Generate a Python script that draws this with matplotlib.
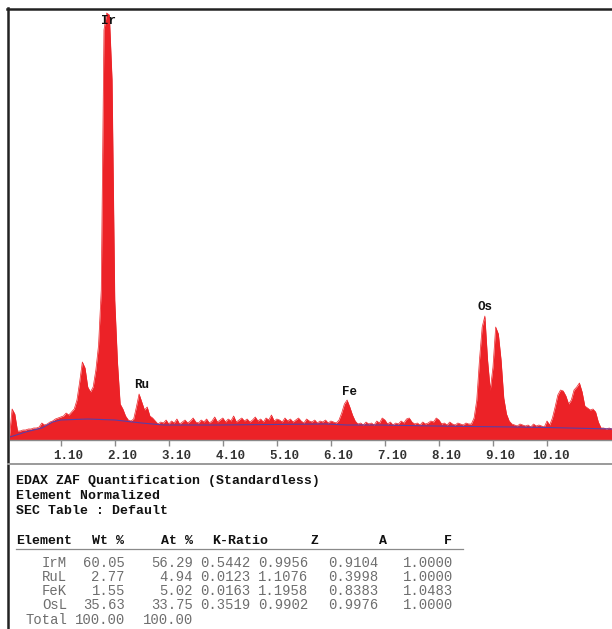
import numpy as np
import matplotlib
matplotlib.use('Agg')
import matplotlib.pyplot as plt
from matplotlib.lines import Line2D
from matplotlib import transforms

# spectrum counts, one value per 0.05 keV channel starting at 0.15 keV
counts = [
    3, 31, 26, 9, 9, 10, 10, 11, 11, 12, 12, 13, 17, 15, 16, 18, 19, 21, 22, 23,
    24, 27, 25, 28, 31, 40, 58, 78, 72, 53, 48, 53, 70, 95, 150, 410, 427, 425, 360, 140,
    78, 36, 31, 24, 20, 19, 21, 33, 46, 38, 30, 33, 24, 22, 19, 16, 18, 17, 20, 16,
    19, 17, 21, 16, 18, 20, 17, 19, 22, 18, 17, 20, 18, 21, 17, 19, 23, 18, 20, 22,
    18, 21, 19, 24, 18, 20, 22, 19, 21, 18, 20, 23, 19, 21, 18, 22, 20, 25, 19, 21,
    20, 18, 22, 19, 21, 18, 20, 22, 19, 17, 21, 19, 18, 20, 17, 19, 18, 20, 17, 19,
    18, 17, 20, 27, 36, 40, 33, 25, 19, 16, 17, 15, 18, 16, 17, 15, 19, 17, 22, 20,
    16, 18, 15, 17, 16, 19, 17, 21, 22, 18, 16, 17, 15, 18, 16, 17, 19, 18, 22, 20,
    16, 17, 15, 18, 16, 15, 17, 16, 15, 17, 16, 16, 22, 40, 80, 113, 124, 80, 50, 73,
    113, 106, 80, 42, 26, 19, 16, 15, 14, 16, 15, 14, 15, 13, 16, 14, 15, 14, 13, 19,
    15, 22, 33, 45, 50, 49, 44, 36, 40, 50, 53, 57, 48, 34, 32, 30, 31, 28, 18, 12,
    12, 11, 12, 11,
]
chan_start = 0.15
chan_width = 0.05
energy = np.round(chan_start + chan_width * np.arange(len(counts)), 2)

# background fit (blue line)
bg_kev = [0.16, 0.45, 0.75, 0.95, 1.1, 1.6, 2.1, 2.6, 3.0, 4.0, 5.0, 6.0, 6.4, 7.0, 8.0, 8.7, 9.5, 10.1, 11.3]
bg_counts = [3, 8, 12, 18, 20, 21, 20, 17, 15, 15, 15.5, 16, 15, 15, 14, 13.5, 13, 12.5, 11]

tick_kev = [1.1, 2.1, 3.1, 4.1, 5.1, 6.1, 7.1, 8.1, 9.1, 10.1]
tick_labels = ['1.10', '2.10', '3.10', '4.10', '5.10', '6.10', '7.10', '8.10', '9.10', '10.10']

peak_names = ['Ir', 'Ru', 'Fe', 'Os']
peak_kev = [1.99, 2.60, 6.45, 8.95]
peak_label_y = [419, 55, 48, 133]

# quantification table
title_lines = ['EDAX ZAF Quantification (Standardless)', 'Element Normalized', 'SEC Table : Default']
col_names = ['Element', 'Wt %', 'At %', 'K-Ratio', 'Z', 'A', 'F']
elements = ['IrM', 'RuL', 'FeK', 'OsL']
wt_pct = ['60.05', '2.77', '1.55', '35.63']
at_pct = ['56.29', '4.94', '5.02', '33.75']
k_ratio = ['0.5442', '0.0123', '0.0163', '0.3519']
z_corr = ['0.9956', '1.1076', '1.1958', '0.9902']
a_corr = ['0.9104', '0.3998', '0.8383', '0.9976']
f_corr = ['1.0000', '1.0000', '1.0483', '1.0000']
total_wt = '100.00'
total_at = '100.00'

W, H = 612, 629
red = '#ec2227'
blue = '#5a3ea6'
mono = 'Liberation Mono'


def fx(px):
    return px / W


def fy(py):
    return 1 - py / H


fig = plt.figure(figsize=(W / 100, H / 100), dpi=100)
fig.patch.set_facecolor('white')

ax = fig.add_axes([fx(10), fy(440), fx(602), 430 / H])
ax.fill_between(energy, counts, 0, color=red, lw=0)
ax.plot(energy, counts, color=red, lw=0.5)
ax.plot(bg_kev, bg_counts, color=blue, lw=0.8)
ax.set_xlim(0.161, 11.303)
ax.set_ylim(0, 430)

for s in ['top', 'right', 'left']:
    ax.spines[s].set_visible(False)
ax.spines['bottom'].set_color('#8a8a8a')
ax.spines['bottom'].set_linewidth(1)
ax.set_yticks([])
ax.set_xticks(tick_kev)
ax.set_xticklabels(tick_labels, fontfamily=mono, fontweight='bold', fontsize=9, color='#333333')
ax.tick_params(axis='x', direction='out', length=4, width=1, color='#8a8a8a', pad=3)
# labels sit to the right of their tick
off = transforms.ScaledTranslation(0.225, 0, fig.dpi_scale_trans)
for lab in ax.get_xticklabels():
    lab.set_horizontalalignment('right')
    lab.set_transform(lab.get_transform() + off)

for name, kev, ly in zip(peak_names, peak_kev, peak_label_y):
    ax.text(kev, ly, name, ha='center', va='center', fontfamily=mono,
            fontweight='bold', fontsize=9, color='#111111')

# frame and separators
fig.add_artist(Line2D([fx(7.5), fx(7.5)], [0, fy(8)], transform=fig.transFigure, color='#222222', lw=1.8))
fig.add_artist(Line2D([fx(7), 1], [fy(8.5), fy(8.5)], transform=fig.transFigure, color='#222222', lw=1.8))
fig.add_artist(Line2D([fx(8), 1], [fy(464), fy(464)], transform=fig.transFigure, color='#9a9a9a', lw=1.4))
fig.add_artist(Line2D([fx(16), fx(463)], [fy(549), fy(549)], transform=fig.transFigure, color='#8a8a8a', lw=0.9))

# text block
for i, line in enumerate(title_lines):
    fig.text(fx(16), fy(481 + 15 * i), line, ha='left', va='center', fontfamily=mono,
             fontweight='bold', fontsize=9.5, color='#111111')

head_x = [16, 108, 177, 240, 315, 383, 448]
for j, (name, hx) in enumerate(zip(col_names, head_x)):
    fig.text(fx(hx), fy(541), name, ha='left' if j == 0 else 'center', va='center',
             fontfamily=mono, fontweight='bold', fontsize=9.5, color='#111111')

col_right = [67, 125, 193, 250, 308, 378, 453]
row_y = [563, 577, 591, 605]
for r in range(len(elements)):
    cells = [elements[r], wt_pct[r], at_pct[r], k_ratio[r], z_corr[r], a_corr[r], f_corr[r]]
    for c, val in enumerate(cells):
        fig.text(fx(col_right[c]), fy(row_y[r]), val, ha='right', va='center',
                 fontfamily=mono, fontsize=10, color='#6e6e6e')
for c, val in enumerate(['Total', total_wt, total_at]):
    fig.text(fx(col_right[c]), fy(620), val, ha='right', va='center',
             fontfamily=mono, fontsize=10, color='#6e6e6e')

fig.savefig('out.png', dpi=100)
